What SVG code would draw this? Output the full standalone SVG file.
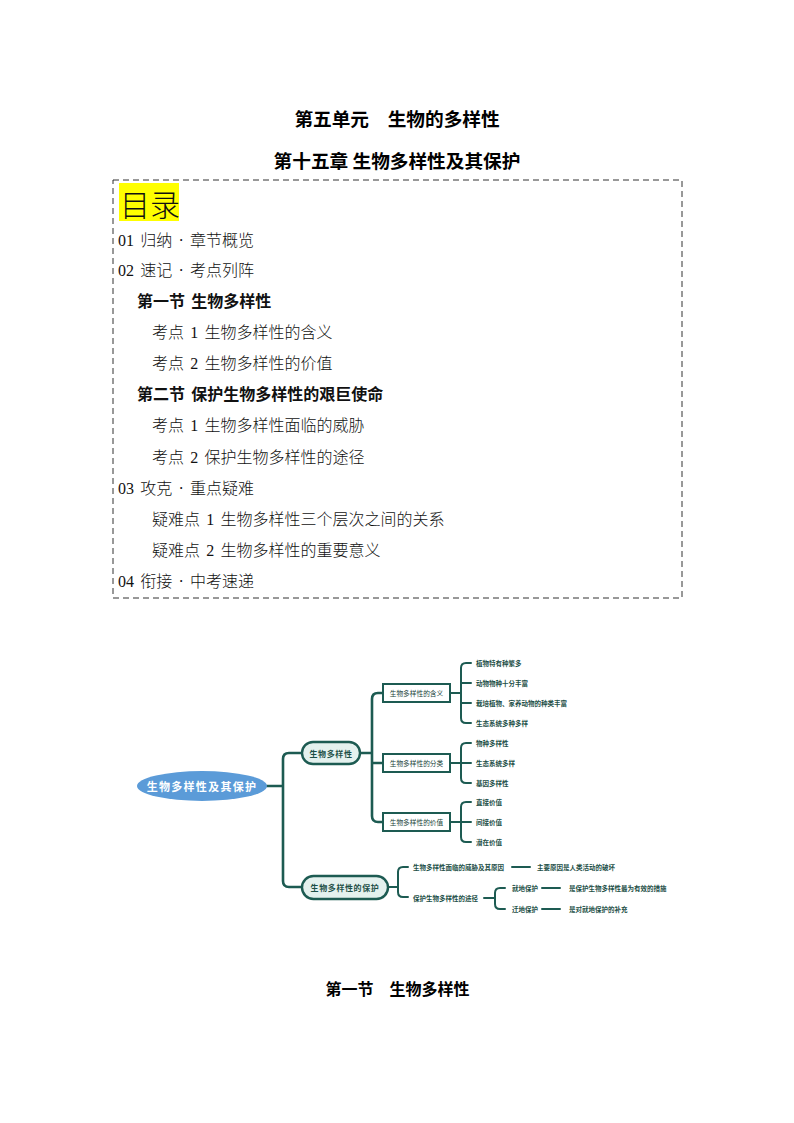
<svg xmlns="http://www.w3.org/2000/svg" width="794" height="1123" viewBox="0 0 794 1123">
<style>
.t{font-family:"Noto Sans CJK SC","Liberation Sans",sans-serif;fill:#000;dominant-baseline:central}
.title{font-size:18.67px;font-weight:bold;text-anchor:middle}
.toc{font-family:"Liberation Serif","Noto Sans CJK SC",serif;font-size:16px;fill:#111;dominant-baseline:central;word-spacing:2.2px;font-weight:300}
.b{font-weight:bold}
.ln{fill:none;stroke:#1d5b52;stroke-width:2.6;stroke-linecap:round;stroke-linejoin:round}
.ln2{fill:none;stroke:#1d5b52;stroke-width:2;stroke-linecap:round;stroke-linejoin:round}
.pill{fill:#e4f1ee;stroke:#1d5b52;stroke-width:2.4}
.box{fill:#fff;stroke:#1d5b52;stroke-width:2}
.mm{font-family:"Noto Sans CJK SC","Liberation Sans",sans-serif;fill:#1d4f47;dominant-baseline:central;font-weight:bold}
.pt{font-size:8px;letter-spacing:0.6px;text-anchor:middle}
.bt{font-size:6.7px;text-anchor:middle;font-weight:normal;fill:#173f39}
.lf{font-size:6.5px}
</style>
<rect width="794" height="1123" fill="#fff"/>
<g id="titles">
<text class="t title" x="397" y="117">第五单元　生物的多样性</text>
<text class="t title" x="397" y="159">第十五章 生物多样性及其保护</text>
</g>
<g id="toc">
<rect x="113" y="180" width="569" height="418" fill="none" stroke="#333" stroke-width="1" stroke-dasharray="6 4"/>
<rect x="119" y="183" width="60" height="38" fill="#ffff00"/>
<text class="toc" x="120" y="203" style="font-size:30px;font-family:'Noto Sans CJK SC',sans-serif">目录</text>
<text class="toc" x="118" y="240">01 归纳 · 章节概览</text>
<text class="toc" x="118" y="270">02 速记 · 考点列阵</text>
<text class="toc b" x="137" y="301">第一节 生物多样性</text>
<text class="toc" x="152" y="332">考点 1 生物多样性的含义</text>
<text class="toc" x="152" y="363">考点 2 生物多样性的价值</text>
<text class="toc b" x="137" y="394">第二节 保护生物多样性的艰巨使命</text>
<text class="toc" x="152" y="425">考点 1 生物多样性面临的威胁</text>
<text class="toc" x="152" y="457">考点 2 保护生物多样性的途径</text>
<text class="toc" x="118" y="488">03 攻克 · 重点疑难</text>
<text class="toc" x="152" y="519">疑难点 1 生物多样性三个层次之间的关系</text>
<text class="toc" x="152" y="550">疑难点 2 生物多样性的重要意义</text>
<text class="toc" x="118" y="581">04 衔接 · 中考速递</text>
</g>
<g id="connectors">
<path class="ln" d="M267,786 H283 M302,753 H289 Q283,753 283,759 V881 Q283,887 289,887 H302"/>
<path class="ln" d="M360,753 H372 M383,693 H378 Q372,693 372,699 V816 Q372,822 378,822 H383 M372,763 H383"/>
<path class="ln2" d="M450,693 H461 M471,663 H466 Q461,663 461,668 V718 Q461,723 466,723 H471 M461,683 H471 M461,703 H471"/>
<path class="ln2" d="M450,763 H461 M471,743 H466 Q461,743 461,748 V778 Q461,783 466,783 H471 M461,763 H471"/>
<path class="ln2" d="M450,822 H461 M471,802 H466 Q461,802 461,807 V837 Q461,842 466,842 H471 M461,822 H471"/>
<path class="ln2" d="M388,887 H398 M408,867 H403 Q398,867 398,872 V892 Q398,897 403,897 H408"/>
<path class="ln2" d="M512,867 H530"/>
<path class="ln2" d="M484,898 H495 M505,888 H500 Q495,888 495,893 V904 Q495,909 500,909 H505"/>
<path class="ln2" d="M542,888 H560 M542,909 H560"/>
</g>
<g id="root">
<ellipse cx="202" cy="786" rx="65" ry="15" fill="#5b9bd8"/>
<text class="mm" x="202" y="786" style="font-size:11px;letter-spacing:1.3px;text-anchor:middle;fill:#fff">生物多样性及其保护</text>
</g>
<g id="n-diversity">
<rect class="pill" x="302" y="742" width="58" height="22" rx="11"/>
<text class="mm pt" x="331" y="753">生物多样性</text>
</g>
<g id="n-protect">
<rect class="pill" x="302" y="876" width="86" height="23" rx="11.5"/>
<text class="mm pt" x="345" y="887.5">生物多样性的保护</text>
</g>
<g id="n-meaning">
<rect class="box" x="383" y="684" width="67" height="18"/>
<text class="mm bt" x="416.5" y="693">生物多样性的含义</text>
</g>
<g id="n-class">
<rect class="box" x="383" y="754" width="67" height="18"/>
<text class="mm bt" x="416.5" y="763">生物多样性的分类</text>
</g>
<g id="n-value">
<rect class="box" x="383" y="813" width="67" height="18"/>
<text class="mm bt" x="416.5" y="822">生物多样性的价值</text>
</g>
<g id="leaves-meaning">
<text class="mm lf" x="476" y="663">植物特有种繁多</text>
<text class="mm lf" x="476" y="683">动物物种十分丰富</text>
<text class="mm lf" x="476" y="703">栽培植物、家养动物的种类丰富</text>
<text class="mm lf" x="476" y="723">生态系统多种多样</text>
</g>
<g id="leaves-class">
<text class="mm lf" x="476" y="743">物种多样性</text>
<text class="mm lf" x="476" y="763">生态系统多样</text>
<text class="mm lf" x="476" y="783">基因多样性</text>
</g>
<g id="leaves-value">
<text class="mm lf" x="476" y="802">直接价值</text>
<text class="mm lf" x="476" y="822">间接价值</text>
<text class="mm lf" x="476" y="842">潜在价值</text>
</g>
<g id="protect-branch">
<text class="mm lf" x="413" y="867">生物多样性面临的威胁及其原因</text>
<text class="mm lf" x="537" y="867">主要原因是人类活动的破坏</text>
<text class="mm lf" x="413" y="898">保护生物多样性的途径</text>
<text class="mm lf" x="512" y="888">就地保护</text>
<text class="mm lf" x="569" y="888">是保护生物多样性最为有效的措施</text>
<text class="mm lf" x="512" y="909">迁地保护</text>
<text class="mm lf" x="569" y="909">是对就地保护的补充</text>
</g>
<g id="section">
<text class="t b" x="397.5" y="988" style="font-size:16px;text-anchor:middle">第一节　生物多样性</text>
</g>
</svg>
